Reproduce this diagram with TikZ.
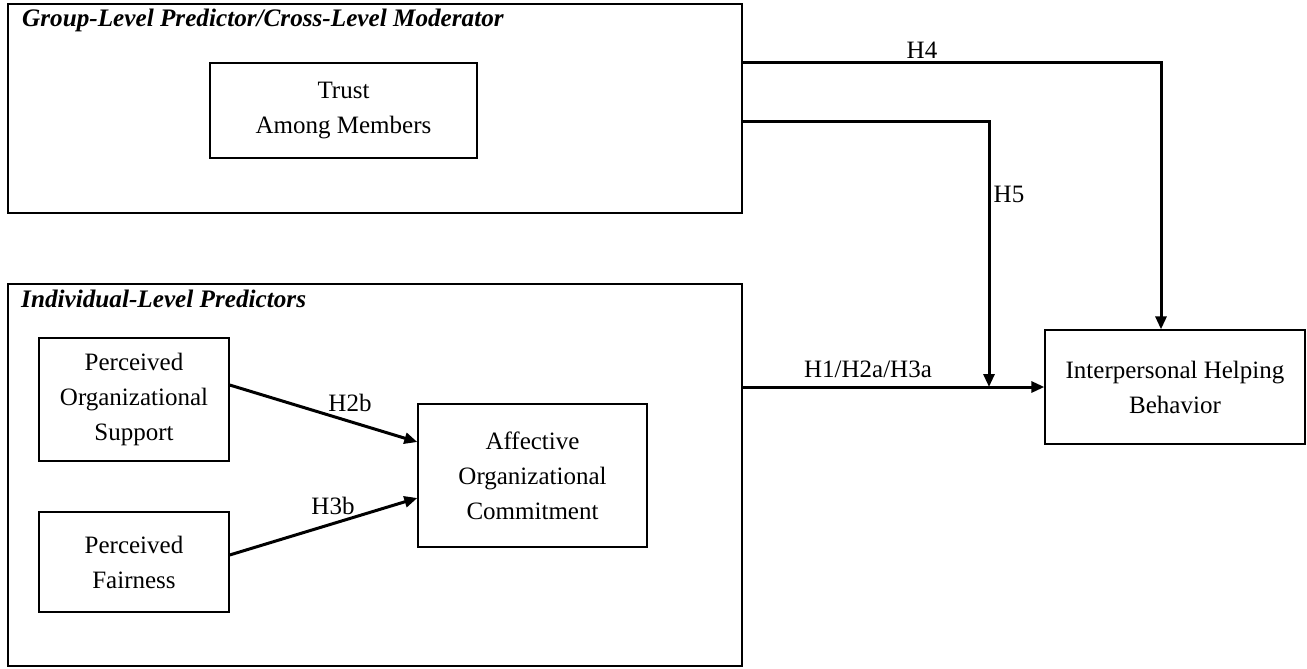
\documentclass[tikz,border=0pt]{standalone}
\usepackage{fontspec}
\setmainfont{Liberation Serif}
\usetikzlibrary{arrows.meta}
\begin{document}
\begin{tikzpicture}[x=1pt,y=-1pt,
  box/.style={draw=black, line width=1.3pt, rectangle, align=center, inner sep=0pt,
    font=\fontsize{25}{35}\selectfont},
  frame/.style={draw=black, line width=1.3pt, rectangle, inner sep=0pt},
  title/.style={anchor=base west, inner sep=0pt, font=\fontsize{25.2}{29}\selectfont\bfseries\itshape},
  lab/.style={inner sep=0pt, font=\fontsize{25}{30}\selectfont},
  conn/.style={line width=3pt, -{Triangle[length=13pt,width=11pt]}},
  plain/.style={line width=3pt}
]
\useasboundingbox (0,0) rectangle (1307,669);
% frames
\node[frame, minimum width=734pt, minimum height=209pt] (G) at (375,108.5) {};
\node[frame, minimum width=734pt, minimum height=382pt] (I) at (375,475) {};
\node[title] (Gt) at (22,27) {Group-Level Predictor/Cross-Level Moderator};
\node[title] (It) at (21,307) {Individual-Level Predictors};
% boxes
\node[box, minimum width=267pt, minimum height=95pt] (T) at (343.5,110.5) {Trust\\Among Members};
\node[box, minimum width=190pt, minimum height=123pt] (P) at (134,399.5) {Perceived\\Organizational\\Support};
\node[box, minimum width=190pt, minimum height=100pt] (F) at (134,562) {Perceived\\Fairness};
\node[box, minimum width=229pt, minimum height=143pt] (A) at (532.5,475.5) {Affective\\Organizational\\Commitment};
\node[box, minimum width=260pt, minimum height=114pt] (B) at (1175,387) {Interpersonal Helping\\Behavior};
% connectors
\coordinate (J) at (989,387);
\draw[conn] ([yshift=14.5pt]P.east) -- ([yshift=33.5pt]A.west);
\draw[conn] ([yshift=7pt]F.east) -- ([yshift=-22.5pt]A.west);
\draw[conn] ([yshift=88pt]I.east) -- (B.west);
\draw[conn] ([yshift=45.5pt]G.east) -| ([xshift=-14pt]B.north);
\draw[conn] ([yshift=-12.5pt]G.east) -| (J);
% labels
\node[lab] (l4) at (922,50.5) {H4};
\node[lab] (l5) at (1009,194) {H5};
\node[lab] (l1) at (868,369) {H1/H2a/H3a};
\node[lab] (l2b) at (350,403) {H2b};
\node[lab] (l3b) at (333,506) {H3b};
\end{tikzpicture}
\end{document}
